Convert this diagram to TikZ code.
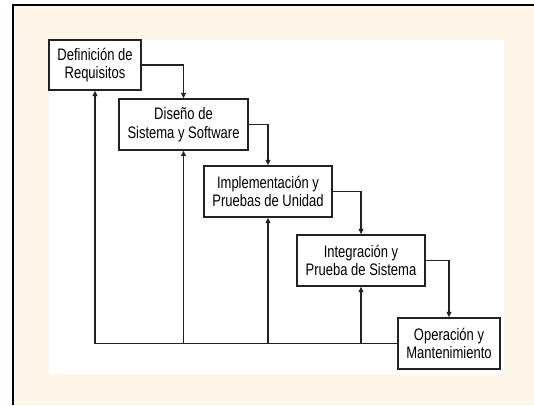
\documentclass[tikz,border=0pt]{standalone}
\usepackage{fontspec}
\setmainfont{Liberation Sans}[FakeStretch=0.78]
\usetikzlibrary{arrows.meta}
\definecolor{cream}{HTML}{FDF6E9}
\definecolor{ink}{HTML}{222222}
\begin{document}
\begin{tikzpicture}[x=0.75pt,y=-0.75pt,
  stage/.style={draw=ink, line width=1.05pt, fill=white, align=center,
    inner sep=0pt, font=\fontsize{12.5}{14}\selectfont},
  flow/.style={draw=ink, line width=1.05pt},
  tip/.style={-{Triangle[length=4pt,width=3.6pt]}}]
\useasboundingbox (0,0) rectangle (534,405);
% page frame
\fill[cream] (13,5) rectangle (534,405);
\draw[black, line width=1.5pt] (13,405) -- (13,5) -- (534,5);
\fill[white] (49,40) rectangle (504,374);
% stages of the cascade
\node[stage, minimum width=69pt, minimum height=37.5pt] (B1) at (95,65)
  {Definición de\\Requisitos};
\node[stage, minimum width=96.75pt, minimum height=38.25pt] (B2) at (183.5,124.5)
  {Diseño de\\Sistema y Software};
\node[stage, minimum width=96pt, minimum height=38.25pt] (B3) at (268,191.5)
  {Implementación y\\Pruebas de Unidad};
\node[stage, minimum width=96pt, minimum height=38.25pt] (B4) at (361,260.5)
  {Integración y\\Prueba de Sistema};
\node[stage, minimum width=76.5pt, minimum height=38.25pt] (B5) at (449,343.5)
  {Operación y\\Mantenimiento};
% forward flow
\draw[flow,tip] (B1.east) -| (B2.north);
\draw[flow,tip] (B2.east) -| (B3.north);
\draw[flow,tip] (B3.east) -| (B4.north);
\draw[flow,tip] (B4.east) -| (B5.north);
% feedback paths
\coordinate (r1) at (B1.south |- B5.west);
\coordinate (r2) at (B2.south |- B5.west);
\coordinate (r3) at (B3.south |- B5.west);
\coordinate (r4) at (B4.south |- B5.west);
\draw[flow] (B5.west) -- (r1);
\draw[flow,tip] (r1) -- (B1.south);
\draw[flow,tip] (r2) -- (B2.south);
\draw[flow,tip] (r3) -- (B3.south);
\draw[flow,tip] (r4) -- (B4.south);
\end{tikzpicture}
\end{document}
